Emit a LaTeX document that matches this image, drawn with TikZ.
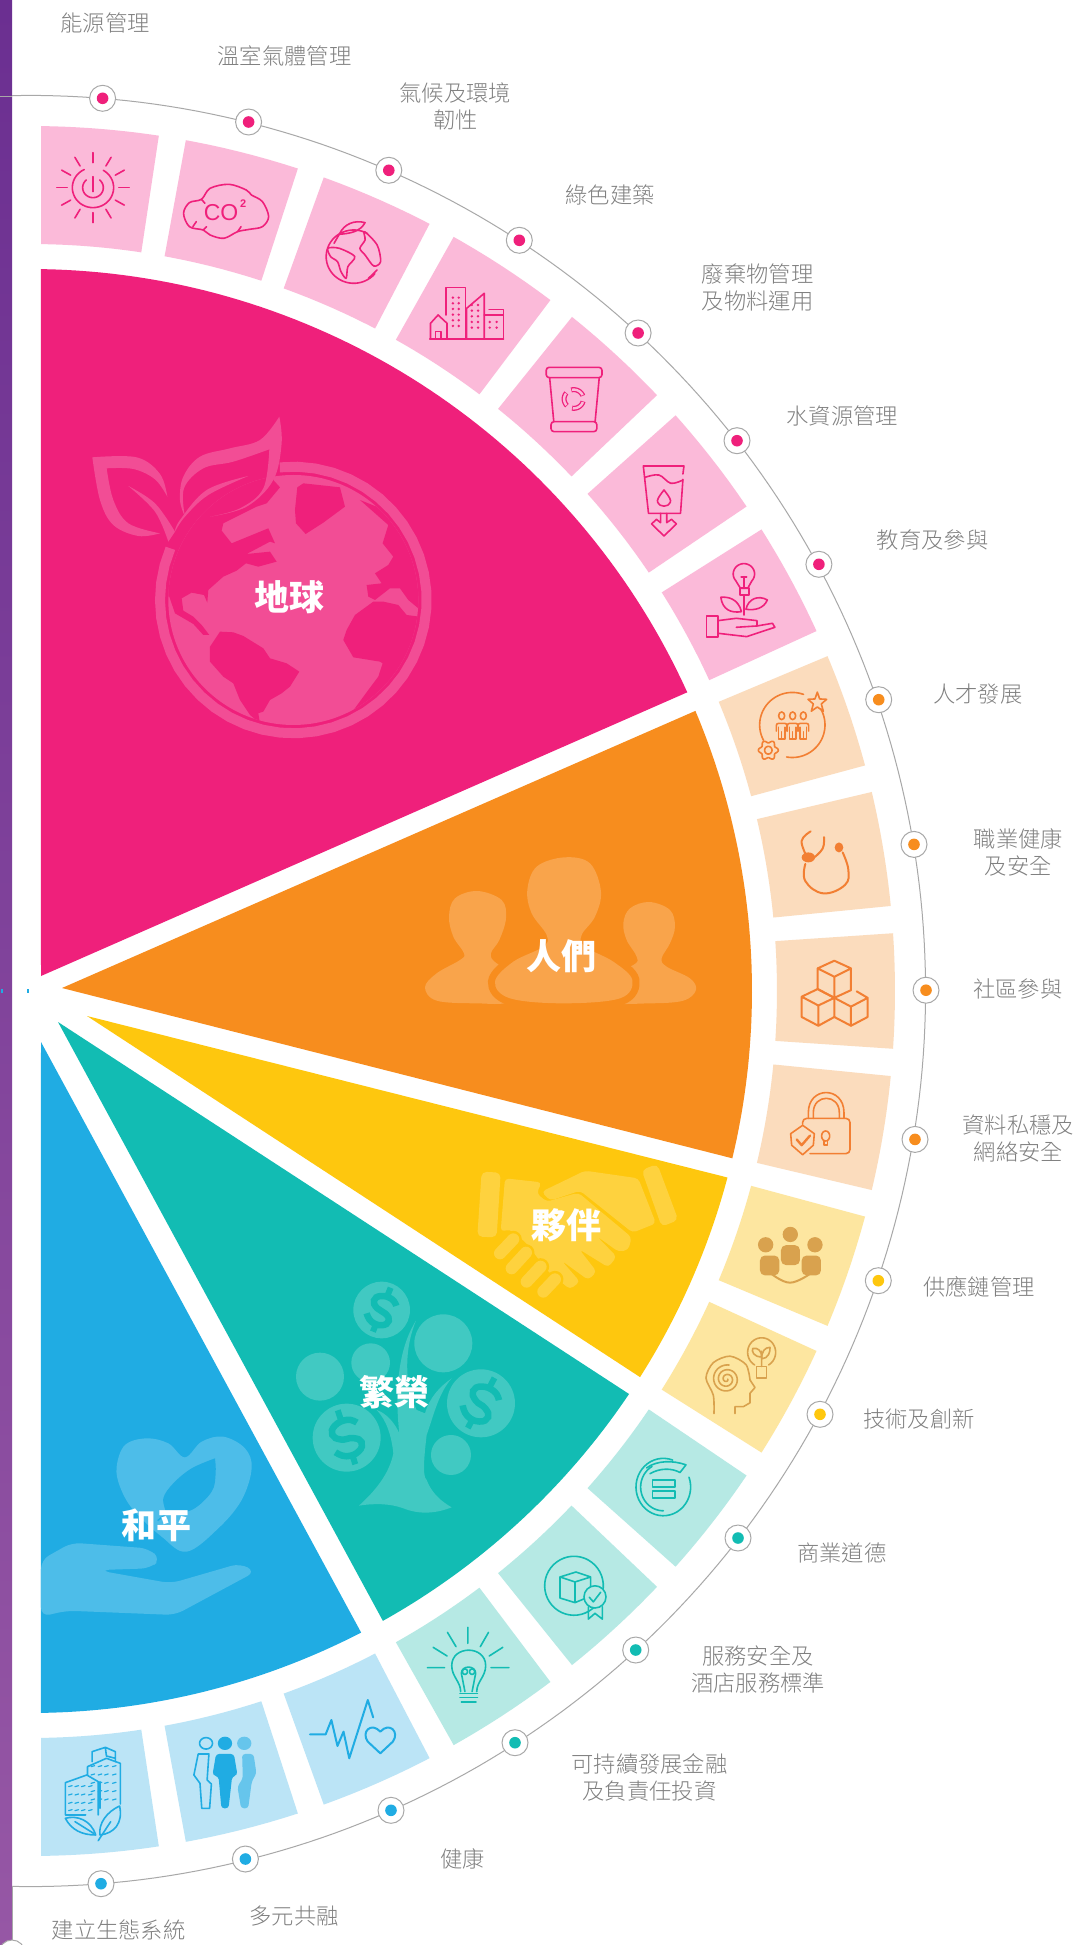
\documentclass[tikz,border=0pt]{standalone}
\usepackage{fontspec}
\usetikzlibrary{arrows.meta}
\setmainfont{Noto Sans CJK TC}
\newfontfamily\lblfont{Noto Sans CJK TC Light}
\newfontfamily\cofont{Liberation Sans}
\definecolor{pinkc}{HTML}{EF207B}
\definecolor{orangec}{HTML}{F78D1E}
\definecolor{yellowc}{HTML}{FEC70E}
\definecolor{tealc}{HTML}{12BCB3}
\definecolor{bluec}{HTML}{20ACE3}
\definecolor{pinkl}{HTML}{FBBAD9}
\definecolor{orangel}{HTML}{FBDCBD}
\definecolor{yellowl}{HTML}{FDE6A0}
\definecolor{teall}{HTML}{B6E9E4}
\definecolor{bluel}{HTML}{BBE4F6}
\definecolor{orangei}{HTML}{F27F33}
\definecolor{yellowi}{HTML}{D9A24E}
\definecolor{pinkw}{HTML}{F24D95}
\definecolor{orangew}{HTML}{F9A44B}
\definecolor{yelloww}{HTML}{FED23E}
\definecolor{tealw}{HTML}{41C9C2}
\definecolor{bluew}{HTML}{4DBDE9}
\definecolor{lblc}{HTML}{808080}
\definecolor{ringc}{HTML}{A8A8A8}
\definecolor{barT}{HTML}{6B2F91}
\definecolor{barB}{HTML}{9657A5}
\newcommand\earc[6]{plot[domain=#5:#6,samples=40,variable=\t] ({#1+#3*cos(\t)},{#2+#4*sin(\t)})}
\tikzset{
 lbl/.style={font=\lblfont\fontsize{22.3}{27}\selectfont,text=lblc,align=center,inner sep=0pt},
 big/.style={font=\fontsize{35}{35}\selectfont\bfseries,text=white,inner sep=0pt},
 ic/.style={line width=1.6pt,line join=round,line cap=round},
 zA/.style={shift={(0,0)},xscale=.3444,yscale=.3333},
 zB/.style={shift={(540,200)},xscale=.3444,yscale=.3333},
 zC/.style={shift={(680,640)},xscale=.3333,yscale=.3827},
 zD/.style={shift={(0,1500)},xscale=.3571,yscale=.3333},
 zE/.style={shift={(500,1200)},xscale=.3333,yscale=.3827},
 zG/.style={shift={(60,400)},scale=.3333},
 zH/.style={shift={(280,1150)},scale=.3333},
 zI/.style={shift={(400,830)},scale=.3333},
 zJ/.style={shift={(35,1400)},scale=.3333},
}
\begin{document}
\begin{tikzpicture}[x=1pt,y=-1pt]
\useasboundingbox (0,0) rectangle (1080,1945);
\clip (0,0) rectangle (1080,1945);
\fill[white] (0,0) rectangle (1080,1945);
% purple bar
\shade[top color=barT,bottom color=barB] (0,0) rectangle (12,1945);
\draw[ringc,line width=.8pt] (0,96) -- (12,96);
\draw[ringc,line width=.8pt] (12,1886) -- (12,1945);
\draw[ringc,line width=1pt,fill=white] (12,1953) circle (13);
% sectors
\fill[pinkc] (41,976) -- plot[domain=-24.44:-89.13,samples=70,variable=\t] ({30+722*cos(\t)},{991+722*sin(\t)}) -- cycle;
\fill[orangec] (62,988) -- plot[domain=-22.83:13.4,samples=50,variable=\t] ({30+722*cos(\t)},{991+722*sin(\t)}) -- cycle;
\fill[yellowc] (87,1016) -- plot[domain=14.97:32.33,samples=30,variable=\t] ({30+722*cos(\t)},{991+722*sin(\t)}) -- cycle;
\fill[tealc] (58,1022) -- plot[domain=33.93:60.74,samples=40,variable=\t] ({30+722*cos(\t)},{991+722*sin(\t)}) -- cycle;
\fill[bluec] (41,1042) -- plot[domain=62.7:89.13,samples=40,variable=\t] ({30+722*cos(\t)},{991+722*sin(\t)}) -- cycle;
\fill[bluec] (1,989) rectangle (3,993);
\fill[bluec] (27,989) rectangle (29,993);
% tiles
\begin{scope}
\clip (41,0) rectangle (1080,1945);
\foreach \k/\c in {1/pinkl,2/pinkl,3/pinkl,4/pinkl,5/pinkl,6/pinkl,7/pinkl,8/orangel,9/orangel,10/orangel,11/orangel,12/yellowl,13/yellowl,14/teall,15/teall,16/teall,17/bluel,18/bluel,19/bluel}{
 \pgfmathsetmacro\aa{(\k==1)?-90:(\k-10)*180/19-3.83}
 \pgfmathsetmacro\ab{(\k==19)?90:(\k-10)*180/19+3.83}
 \fill[\c] plot[domain=\aa:\ab,samples=16,variable=\t] ({30+865*cos(\t)},{991+865*sin(\t)}) -- plot[domain=\ab:\aa,samples=16,variable=\t] ({30+747*cos(\t)},{991+747*sin(\t)}) -- cycle;
}
\end{scope}
% outer arc and markers
\draw[ringc,line width=1pt] plot[domain=-91.15:91.15,samples=200,variable=\t] ({30+895.6*cos(\t)},{991+895.6*sin(\t)});
\foreach \k/\c/\px/\py in {1/pinkc/102.6/98.3,2/pinkc/248.6/122,3/pinkc/388.8/170.3,4/pinkc/519.3/240.3,5/pinkc/638.1/333,6/pinkc/737/440.7,7/pinkc/818.9/564.3,8/orangec/878.7/699.7,9/orangec/914/844.4,10/orangec/926/990.2,11/orangec/915/1139.4,12/yellowc/878.3/1280.7,13/yellowc/820/1414.3,14/tealc/738/1538,15/tealc/635.7/1650,16/tealc/515/1742.7,17/bluec/391/1810.3,18/bluec/245.4/1859,19/bluec/101/1883.7}{
 \node[circle,draw=ringc,line width=1pt,fill=white,minimum size=26pt,inner sep=0pt] (d\k) at (\px,\py) {};
 \fill[\c] (d\k.center) circle (5.8);
}
% labels
\node[lbl] (l1) at (105,22.5) {能源管理};
\node[lbl] (l2) at (284.4,55.7) {溫室氣體管理};
\node[lbl] (l3) at (455.4,106.5) {氣候及環境\\韌性};
\node[lbl] (l4) at (610,194.7) {綠色建築};
\node[lbl] (l5) at (757.6,287.3) {廢棄物管理\\及物料運用};
\node[lbl] (l6) at (842.3,415.7) {水資源管理};
\node[lbl] (l7) at (932.6,540) {教育及參與};
\node[lbl] (l8) at (977.7,693.6) {人才發展};
\node[lbl] (l9) at (1018.3,852.8) {職業健康\\及安全};
\node[lbl] (l10) at (1017.7,989.4) {社區參與};
\node[lbl] (l11) at (1018.3,1138.6) {資料私穩及\\網絡安全};
\node[lbl] (l12) at (979,1287) {供應鏈管理};
\node[lbl] (l13) at (919,1419) {技術及創新};
\node[lbl] (l14) at (841.8,1553) {商業道德};
\node[lbl] (l15) at (758,1669.8) {服務安全及\\酒店服務標準};
\node[lbl] (l16) at (649.5,1777.5) {可持續發展金融\\及負責任投資};
\node[lbl] (l17) at (462.9,1859) {健康};
\node[lbl] (l18) at (294,1915.7) {多元共融};
\node[lbl] (l19) at (118.6,1930) {建立生態系統};
% ===== watermark: globe
\begin{scope}[zG]
 \fill[pinkw] (700,600) circle (375);
 \begin{scope}
 \clip (700,600) circle (375);
 \fill[pinkc] (328,590) -- (345,640) -- (400,672) -- (430,705) -- (448,705) -- (425,675) -- (400,650) -- (370,632) -- (365,595) -- (395,578) -- (432,585) -- (442,608) -- (445,570) -- (490,530) -- (530,512) -- (558,490) -- (595,500) -- (650,485) -- (630,455) -- (560,462) -- (630,425) -- (645,430) -- (625,385) -- (515,430) -- (485,392) -- (490,370) -- (540,345) -- (590,320) -- (620,310) -- (660,262) -- (640,240) -- (640,180) -- (300,200) -- (280,590) -- cycle;
 \fill[pinkc] (712,262) -- (730,250) -- (840,262) -- (855,320) -- (790,368) -- (737,402) -- (708,370) -- (705,330) -- cycle;
 \fill[pinkc] (985,375) -- (968,430) -- (1000,470) -- (985,495) -- (945,520) -- (965,550) -- (920,555) -- (925,590) -- (945,600) -- (990,565) -- (1020,565) -- (1045,600) -- (1075,625) -- (1100,630) -- (1100,380) -- (900,300) -- cycle;
 \fill[pinkc] (1078,650) -- (1040,645) -- (1015,615) -- (970,605) -- (940,605) -- (885,645) -- (860,690) -- (850,720) -- (880,772) -- (960,785) -- (968,790) -- (955,830) -- (925,870) -- (870,945) -- (1000,1000) -- (1120,800) -- cycle;
 \fill[pinkc] (450,740) -- (480,695) -- (520,697) -- (550,708) -- (610,745) -- (630,775) -- (680,790) -- (718,815) -- (690,860) -- (665,880) -- (630,900) -- (610,935) -- (595,940) -- (600,970) -- (570,945) -- (540,900) -- (520,850) -- (490,830) -- (450,785) -- cycle;
 \end{scope}
 \draw[pinkw,line width=10pt] \earc{700}{600}{400}{400}{-95.8}{202.8};
 \fill[pinkw] plot[smooth,tension=.6] coordinates {(97,172) (230,172) (300,222) (322,290)} -- plot[smooth,tension=.6] coordinates {(322,290) (285,238) (220,207) (140,205)} -- plot[smooth,tension=.6] coordinates {(140,205) (160,300) (205,370) (300,400)} -- plot[smooth,tension=.6] coordinates {(300,400) (235,408) (160,375) (120,300) (97,172)} -- cycle;
 \fill[pinkw] plot[smooth,tension=.6] coordinates {(205,258) (285,310) (345,395)} -- (325,425) -- plot[smooth,tension=.6] coordinates {(325,425) (285,335) (205,258)} -- cycle;
 \fill[pinkw] plot[smooth,tension=.6] coordinates {(658,50) (665,130) (640,240) (560,320) (450,350)} -- plot[smooth,tension=.6] coordinates {(450,350) (540,325) (610,265) (628,148)} -- plot[smooth,tension=.6] coordinates {(628,148) (520,185) (430,205) (372,265) (375,350)} -- plot[smooth,tension=.6] coordinates {(375,350) (360,300) (370,230) (420,170) (510,145) (600,120) (658,50)} -- cycle;
 \fill[pinkw] plot[smooth,tension=.6] coordinates {(565,228) (445,285) (375,350) (345,395)} -- plot[smooth,tension=.6] coordinates {(345,395) (360,360) (440,270) (565,228)} -- cycle;
\end{scope}
% ===== watermark: people
\begin{scope}[zI]
 \fill[orangew] plot[smooth cycle,tension=.6] coordinates {(232,183) (305,210) (318,265) (298,330) (273,370) (290,400) (380,450) (330,515) (230,520) (110,512) (75,472) (110,430) (180,390) (192,370) (160,320) (147,260) (165,205)};
 \fill[orangew] plot[smooth cycle,tension=.6] coordinates {(748,216) (810,240) (825,290) (810,340) (785,385) (800,410) (870,445) (888,480) (850,512) (750,520) (620,515) (600,450) (700,405) (710,380) (680,330) (670,280) (690,235)};
 \draw[orangec,line width=14pt] plot[smooth cycle,tension=.6] coordinates {(493,82) (570,100) (603,185) (585,260) (545,315) (555,350) (640,395) (697,450) (660,505) (490,520) (330,505) (285,455) (340,395) (430,350) (440,315) (395,250) (382,180) (410,110)};
 \fill[orangew] plot[smooth cycle,tension=.6] coordinates {(493,82) (570,100) (603,185) (585,260) (545,315) (555,350) (640,395) (697,450) (660,505) (490,520) (330,505) (285,455) (340,395) (430,350) (440,315) (395,250) (382,180) (410,110)};
\end{scope}
% ===== watermark: handshake
\begin{scope}[zH]
 \fill[yelloww,rounded corners=5pt] (605,65) -- (662,68) -- (650,262) -- (592,260) -- cycle;
 \fill[yelloww,rounded corners=5pt] (1085,60) -- (1132,42) -- (1195,210) -- (1145,230) -- cycle;
 \fill[yelloww,rounded corners=4pt] (785,125) -- (915,62) -- (1075,85) -- (1128,220) -- (1058,248) -- (900,122) -- (810,152) -- cycle;
 \fill[yelloww,rounded corners=4pt] (675,85) -- (785,97) -- (770,130) -- (800,155) -- (895,128) -- (1055,262) -- (1045,300) -- (1015,305) -- (950,258) -- (1010,320) -- (985,352) -- (898,298) -- (950,365) -- (925,390) -- (845,332) -- (900,395) -- (870,418) -- (800,360) -- (740,280) -- (690,238) -- (662,245) -- cycle;
 \foreach \ax/\ay/\bx/\by in {660/310/700/268,695/355/738/308,740/395/782/350,790/425/825/388}{
  \draw[yellowc,line width=17pt,line cap=round] (\ax,\ay) -- (\bx,\by);
  \draw[yelloww,line width=12pt,line cap=round] (\ax,\ay) -- (\bx,\by);
 }
\end{scope}
% ===== watermark: tree
\begin{scope}[zH]
 \fill[tealw] (305,480) circle (85);
 \fill[tealw] (490,580) circle (87);
 \fill[tealw] (272,638) circle (58);
 \fill[tealw] (120,680) circle (72);
 \fill[tealw] (603,760) circle (102);
 \fill[tealw] (200,863) circle (102);
 \fill[tealw] (513,915) circle (60);
 \fill[tealw] (237,1067) .. controls (300,1010) and (330,960) .. (340,910) .. controls (335,860) and (320,810) .. (290,780) .. controls (320,790) and (345,820) .. (358,850) .. controls (350,780) and (340,620) .. (408,512) .. controls (375,590) and (370,700) .. (410,780) -- (435,790) .. controls (450,740) and (480,710) .. (515,685) .. controls (475,730) and (460,800) .. (440,855) .. controls (435,900) and (425,980) .. (440,990) .. controls (455,1030) and (485,1055) .. (515,1072) .. controls (470,1090) and (420,1095) .. (370,1075) .. controls (330,1060) and (280,1060) .. (237,1067) -- cycle;
 \foreach \cx/\cy/\rr/\ss in {305/480/-22/1,603/760/-28/1.2,200/863/18/1.2}{
  \begin{scope}[shift={(\cx,\cy)},rotate=\rr,scale=\ss]
   \draw[tealc,line width=6.5pt,line cap=butt] plot[smooth,tension=.8] coordinates {(36,-28) (15,-42) (-18,-38) (-32,-18) (-15,0) (15,6) (32,22) (18,42) (-15,44) (-38,26)};
   \draw[tealc,line width=6pt] (0,-72) -- (0,-45) (0,45) -- (0,70);
  \end{scope}
 }
\end{scope}
% ===== watermark: heart and hand
\begin{scope}[zJ]
 \fill[bluew] plot[smooth cycle,tension=.6] coordinates {(245,200) (270,135) (335,115) (400,130) (450,172) (500,125) (565,110) (630,145) (650,205) (620,300) (550,385) (455,455) (380,410) (295,330) (255,260)};
 \fill[bluec] plot[smooth,tension=.6] coordinates {(540,175) (470,205) (415,250) (385,295) (395,340)} -- plot[smooth,tension=.6] coordinates {(395,340) (470,330) (530,275) (542,220) (540,175)} -- cycle;
 \draw[bluec,line width=1.5pt] (395,340) -- (368,362);
 \fill[bluew,rounded corners=9pt] (18,480) -- (110,428) -- (340,445) -- (378,478) -- (345,505) -- (195,510) -- (195,512) -- (408,550) -- (615,490) -- (662,515) -- (420,645) -- (95,632) -- (18,650) -- cycle;
\end{scope}
% ===== big labels
\node[big] (n1) at (289.3,597.5) {地球};
\node[big] (n2) at (561.5,956) {人們};
\node[big] (n3) at (566,1225) {夥伴};
\node[big] (n4) at (394.8,1392.5) {繁榮};
\node[big] (n5) at (156,1525) {和平};
% ===== icons
% 1 sun
\begin{scope}[zA,ic,draw=pinkc]
 \foreach \a in {0,30,...,330}{\draw ({270+75*cos(\a)},{563+75*sin(\a)}) -- ({270+105*cos(\a)},{563+105*sin(\a)});}
 \draw \earc{270}{563}{60}{60}{-60}{245};
 \draw \earc{270}{563}{30}{30}{-50}{230};
 \draw (270,530) -- (270,575);
\end{scope}
% 2 cloud
\begin{scope}[zA,ic,draw=pinkc]
 \draw plot[smooth cycle,tension=.55] coordinates {(533,640) (550,608) (585,598) (610,565) (665,553) (715,570) (730,585) (762,605) (780,650) (762,680) (725,688) (690,695) (650,715) (610,705) (590,690) (550,680)};
 \draw (585,598) -- (595,610) (590,690) -- (600,680) (690,695) -- (700,680) (560,680) -- (570,665);
 \node[font=\cofont\fontsize{23}{23}\selectfont,text=pinkc,inner sep=0pt] (co) at (642,638) {CO};
 \node[font=\cofont\fontsize{11}{11}\selectfont\bfseries,text=pinkc,inner sep=0pt] (cotwo) at (706,612) {2};
\end{scope}
% 3 globe
\begin{scope}[zA,ic,draw=pinkc]
 \draw \earc{1027}{770}{80}{80}{40}{300};
 \draw (985,703) .. controls (1000,670) and (1030,660) .. (1060,668) .. controls (1045,695) and (1020,700) .. (985,703) -- cycle;
 \draw plot[smooth cycle,tension=.5] coordinates {(1058,695) (1095,735) (1105,785) (1085,798) (1060,765) (1045,745) (1060,720)};
 \draw plot[smooth cycle,tension=.5] coordinates {(952,745) (985,745) (1030,770) (1010,800) (1005,835) (990,815) (980,785) (960,770)};
 \draw (985,703) -- (970,730) (1095,810) -- (1070,835);
\end{scope}
% 4 city
\begin{scope}[zA,ic,draw=pinkc]
 \draw (1248,1017) -- (1462,1017);
 \draw (1295,945) -- (1295,863) -- (1352,863) -- (1352,1017);
 \draw (1355,1017) -- (1355,925) -- (1406,880) -- (1406,1017);
 \draw (1406,945) -- (1462,945) -- (1462,1017) (1420,928) -- (1462,928) -- (1462,945);
 \draw (1250,1017) -- (1250,970) -- (1272,945) -- (1298,970) -- (1298,1017);
 \draw (1265,1017) -- (1265,995) -- (1280,995) -- (1280,1017);
 \foreach \x in {1315,1332}{\foreach \y in {893,910,...,985}{\fill[pinkc] (\x,\y) circle (4);}}
 \foreach \x in {1370,1388}{\foreach \y in {915,932,...,990}{\fill[pinkc] (\x,\y) circle (4);}}
 \foreach \x in {1422,1442}{\foreach \y in {966,983}{\fill[pinkc] (\x,\y) circle (4);}}
\end{scope}
% 5 bin
\begin{scope}[zB,ic,draw=pinkc]
 \draw[rounded corners=3pt] (18,502) -- (180,502) -- (180,533) -- (18,533) -- cycle;
 \draw (28,533) -- (40,665) (172,533) -- (160,665);
 \draw[rounded corners=3pt] (32,665) -- (165,665) -- (165,695) -- (32,695) -- cycle;
 \foreach \st in {-105,15,135}{
  \pgfmathsetmacro\en{\st+85}
  \draw[pinkc,line width=5pt,line cap=butt] \earc{98}{597}{28}{28}{\st}{\en};
  \draw[pinkl,line width=2.4pt,line cap=butt] \earc{98}{597}{28}{28}{\st+4}{\en-4};
 }
\end{scope}
% 6 water
\begin{scope}[zB,ic,draw=pinkc]
 \draw (415,822) -- (418,798) -- (300,798) -- (315,940) -- (408,940) -- (415,838);
 \draw plot[smooth,tension=.6] coordinates {(305,832) (345,825) (380,850) (415,840)};
 \draw (360,870) .. controls (345,890) and (338,900) .. (342,908) .. controls (348,922) and (372,922) .. (378,908) .. controls (382,900) and (375,890) .. (360,870) -- cycle;
 \draw (350,940) -- (350,968) -- (338,958) -- (324,972) -- (360,1008) -- (396,972) -- (382,958) -- (368,968) -- (368,940);
\end{scope}
% 7 seedling
\begin{scope}[zB,ic,draw=pinkc]
 \draw \earc{592}{1122}{31}{31}{135}{405};
 \draw (570,1145) -- (582,1165) -- (603,1165) -- (614,1145);
 \draw (580,1165) rectangle (606,1185);
 \draw (592,1130) -- (592,1165) (584,1132) -- (600,1132);
 \draw (592,1185) -- (592,1245);
 \draw (525,1192) .. controls (545,1190) and (575,1195) .. (585,1235) .. controls (555,1240) and (530,1230) .. (525,1192) -- cycle;
 \draw (598,1228) .. controls (605,1195) and (635,1185) .. (660,1200) .. controls (650,1225) and (625,1232) .. (598,1228) -- cycle;
 \draw (483,1248) rectangle (517,1312);
 \draw (517,1262) -- (570,1255) -- (630,1262) -- (630,1278) -- (570,1282);
 \draw (630,1278) -- (675,1270) -- (682,1282) -- (600,1310) -- (517,1300);
\end{scope}
% 8 talent
\begin{scope}[zC,ic,draw=orangei]
 \draw \earc{337}{222}{98}{85}{-30}{100};
 \draw \earc{337}{222}{98}{85}{125}{290};
 \foreach \x in {305,338,370}{
  \draw (\x,198) circle[x radius=9,y radius=10];
  \draw[rounded corners=2pt] (\x-16,238) -- (\x-16,218) -- (\x+16,218) -- (\x+16,238);
  \draw (\x-10,228) -- (\x-10,258) -- (\x+10,258) -- (\x+10,228) (\x,240) -- (\x,258);
 }
 \draw (412,136) -- (419,154) -- (440,155) -- (424,167) -- (430,186) -- (412,175) -- (394,186) -- (400,167) -- (384,155) -- (405,154) -- cycle;
 \fill[orangel] (265,288) ellipse (30 and 28);
 \draw plot[domain=0:360,samples=73,variable=\t] ({265+(26+4*cos(6*\t))*cos(\t)},{288+.87*(26+4*cos(6*\t))*sin(\t)});
 \draw \earc{265}{288}{11}{10}{0}{360};
\end{scope}
% 9 stethoscope
\begin{scope}[zC,ic,draw=orangei,line width=2pt]
 \draw plot[smooth,tension=.7] coordinates {(392,500) (365,525) (380,565)};
 \draw plot[smooth,tension=.7] coordinates {(432,515) (428,545) (400,570)};
 \fill[orangei] (385,568) ellipse (20 and 13);
 \draw plot[smooth,tension=.7] coordinates {(376,585) (376,630) (430,662) (495,640) (505,600) (488,555)};
 \fill[orangei] (477,542) ellipse (13 and 13);
\end{scope}
% 10 cubes
\begin{scope}[zC,ic,draw=orangei,line width=2pt]
 \draw (463,838) -- (513,858) -- (513,915) -- (463,935) -- (413,912) -- (413,858) -- cycle (413,858) -- (463,880) -- (513,858) (463,880) -- (463,935);
 \draw (413,912) -- (463,935) -- (463,985) -- (415,1008) -- (365,985) -- (365,932) -- cycle (365,932) -- (415,955) -- (463,935) (415,955) -- (415,1008);
 \draw (530,918) -- (563,935) -- (563,985) -- (513,1008) -- (463,985) (463,935) -- (513,958) -- (563,935) (513,958) -- (513,1008);
\end{scope}
% 11 lock
\begin{scope}[zC,ic,draw=orangei]
 \draw (385,1250) -- (385,1235) .. controls (385,1165) and (492,1165) .. (492,1235) -- (492,1250);
 \draw (400,1250) -- (400,1235) .. controls (400,1185) and (478,1185) .. (478,1235) -- (478,1250);
 \draw[rounded corners=4pt] (368,1265) -- (368,1250) -- (510,1250) -- (510,1342) -- (390,1342);
 \draw \earc{437}{1296}{12}{13}{0}{360};
 \draw (432,1308) -- (432,1320) -- (442,1320) -- (442,1308);
 \fill[orangel] (332,1290) -- (368,1268) -- (403,1290) -- (400,1320) -- (368,1345) -- (335,1320) -- cycle;
 \draw (332,1290) -- (368,1268) -- (403,1290) -- (400,1320) -- (368,1345) -- (335,1320) -- cycle;
 \draw[line width=2.4pt] (350,1305) -- (365,1320) -- (390,1295);
\end{scope}
% 12 team
\begin{scope}[zE,ic,draw=yellowi]
 \fill[yellowi] (797,117) ellipse (23 and 20);
 \fill[yellowi] (871,90) ellipse (23 and 20);
 \fill[yellowi] (945,117) ellipse (23 and 20);
 \fill[yellowi,rounded corners=5pt] (780,145) rectangle (838,197);
 \fill[yellowi,rounded corners=5pt] (843,118) rectangle (900,170);
 \fill[yellowi,rounded corners=5pt] (905,145) rectangle (963,197);
 \draw[line width=2pt] plot[smooth,tension=.7] coordinates {(810,190) (870,216) (935,190)};
\end{scope}
% 13 head
\begin{scope}[zE,ic,draw=yellowi]
 \draw plot[smooth,tension=.5] coordinates {(642,558) (640,510) (618,465) (640,425) (690,408) (738,430) (750,470)};
 \draw (750,470) -- (765,490) -- (750,505) -- (750,530) -- (730,540) -- (705,540) -- (705,558);
 \draw plot[domain=0:1000,samples=120,variable=\t] ({680+(3+\t/25)*cos(\t)},{468+.87*(3+\t/25)*sin(\t)});
 \draw \earc{785}{398}{42}{38}{120}{420};
 \draw (770,435) rectangle (800,465);
 \draw (785,435) -- (785,395) (785,410) .. controls (760,410) and (755,395) .. (758,388) .. controls (775,385) and (785,395) .. (785,410);
 \draw (785,415) .. controls (805,415) and (812,395) .. (810,385) .. controls (795,385) and (785,395) .. (785,415);
\end{scope}
% 14 ethics
\begin{scope}[zE,ic,draw=tealc]
 \draw \earc{490}{750}{82}{75}{-20}{290};
 \draw \earc{490}{750}{68}{62}{90}{240};
 \draw (440,700) .. controls (470,680) and (520,680) .. (558,692) -- (540,712) .. controls (515,700) and (480,700) .. (450,715);
 \draw (458,732) rectangle (525,750) (458,760) rectangle (525,778);
\end{scope}
% 15 service
\begin{scope}[zE,ic,draw=tealc]
 \draw \earc{222}{1008}{88}{77}{-60}{250};
 \draw \earc{222}{1008}{88}{77}{250}{300};
 \draw (180,985) -- (228,972) -- (272,985) -- (272,1035) -- (225,1052) -- (180,1040) -- cycle (180,985) -- (225,998) -- (272,985) (225,998) -- (225,1052);
 \fill[teall] (285,1037) ellipse (33 and 29);
 \draw (285,1037) ellipse (33 and 29);
 \draw (268,1038) -- (280,1050) -- (302,1025);
 \draw (265,1063) -- (265,1095) -- (285,1080) -- (307,1095) -- (307,1063);
\end{scope}
% 16 bulb
\begin{scope}[zD,ic,draw=tealc]
 \draw (1310,382) -- (1310,430) (1253,397) -- (1277,440) (1368,397) -- (1345,440) (1213,442) -- (1252,468) (1408,442) -- (1370,468) (1197,503) -- (1245,503) (1375,503) -- (1425,503);
 \draw (1290,575) .. controls (1290,545) and (1265,530) .. (1265,497) .. controls (1265,435) and (1360,435) .. (1360,497) .. controls (1360,530) and (1335,545) .. (1335,575);
 \draw (1288,580) -- (1337,580) (1288,593) -- (1337,593) (1292,606) -- (1333,606);
 \draw (1302,575) -- (1292,520) .. controls (1292,495) and (1332,495) .. (1332,520) -- (1322,575);
 \draw \earc{1302}{515}{7}{8}{0}{360};
 \draw \earc{1322}{515}{7}{8}{0}{360};
\end{scope}
% 17 heart pulse
\begin{scope}[zD,ic,draw=bluec,line width=2pt]
 \draw (868,703) -- (912,703) -- (928,660) -- (945,738) -- (962,695) -- (978,775) -- (1030,600) -- (1045,652);
 \draw (1065,760) -- (1030,725) .. controls (1010,695) and (1040,665) .. (1065,695) .. controls (1090,665) and (1120,695) .. (1100,725) -- cycle;
\end{scope}
% 18 diverse people
\begin{scope}[zD,ic,draw=bluec]
 \draw \earc{577}{730}{18}{17}{0}{360};
 \fill[bluec] (630,730) ellipse (20 and 20);
 \fill[bluec!55!bluel] (684,730) ellipse (20 and 20);
 \draw (555,762) -- (585,762) -- (580,840) -- (592,852) -- (587,925) -- (565,925) -- (560,850) -- (543,825) -- cycle;
 \fill[bluec,rounded corners=3pt] (605,762) -- (655,762) -- (665,825) -- (650,830) -- (640,925) -- (620,925) -- (612,830) -- (595,825) -- cycle;
 \fill[bluec!55!bluel,rounded corners=3pt] (678,762) -- (710,762) -- (718,820) -- (705,845) -- (695,925) -- (675,925) -- (665,860) -- (680,835) -- cycle;
\end{scope}
% 19 green building
\begin{scope}[zD,ic,draw=bluec]
 \draw (258,785) -- (258,755) -- (295,742) -- (323,755) -- (323,785) (295,742) -- (298,768) -- (323,775);
 \draw (245,800) -- (245,825) (245,800) -- (298,775) -- (337,790) -- (337,912) (280,845) -- (280,925);
 \draw (183,945) -- (183,848) -- (243,825) -- (275,845) -- (275,945) (183,945) -- (240,945);
 \foreach \x in {192,210,228,248}{\foreach \y in {860,885,910,932}{\draw[line width=1.2pt] (\x,\y) -- (\x+10,\y-3);}}
 \foreach \x in {255,275,293,315}{\foreach \y in {800,825,850,875,900}{\draw[line width=1.2pt] (\x,\y) -- (\x+10,\y-3);}}
 \fill[bluel] (183,950) .. controls (215,945) and (255,960) .. (270,1000) -- (275,1020) .. controls (280,960) and (300,935) .. (335,918) .. controls (345,970) and (320,1000) .. (275,1020) .. controls (240,1005) and (200,1000) .. (183,950) -- cycle;
 \draw (183,955) .. controls (215,945) and (255,960) .. (268,1005) .. controls (230,1005) and (200,990) .. (183,955) -- cycle;
 \draw (335,918) .. controls (300,935) and (275,970) .. (280,1005) .. controls (320,1000) and (345,970) .. (335,918) -- cycle;
 \draw (275,1022) -- (310,965) (210,965) -- (262,1000);
\end{scope}
\end{tikzpicture}
\end{document}
